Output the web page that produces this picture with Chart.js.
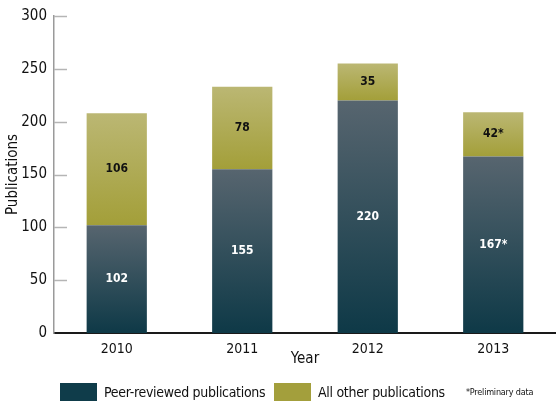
<!DOCTYPE html>
<html>
<head>
<meta charset="utf-8">
<script src="https://cdn.jsdelivr.net/npm/chart.js@4"></script>
<style>
  html, body { margin: 0; padding: 0; background: #fff; }
  #wrap { position: relative; width: 556px; height: 402px; }
  #legend { position: absolute; left: 0; top: 383px; width: 556px; height: 19px;
    font-family: "DejaVu Sans Condensed", "Liberation Sans Narrow", sans-serif; color: #111; }
  .item { position: absolute; top: 0; display: flex; align-items: center; font-size: 14px; letter-spacing: -0.3px; height: 18px; }
  .sw { width: 37px; height: 18px; margin-right: 7px; }
  .note { position: absolute; top: 4px; left: 466px; font-size: 9px; letter-spacing: -0.2px; }
</style>
</head>
<body>
<div id="wrap">
  <canvas id="chart" width="556" height="402"></canvas>
  <div id="legend">
    <div class="item" style="left:60px"><div class="sw" style="background:#0f3c4a"></div>Peer-reviewed publications</div>
    <div class="item" style="left:274px"><div class="sw" style="background:#a39f3c"></div>All other publications</div>
    <div class="note">*Preliminary data</div>
  </div>
</div>
<script>
// Data
const years = ['2010', '2011', '2012', '2013'];
const peerReviewed = [102, 155, 220, 167];
const otherPubs = [106, 78, 35, 42];
const preliminary = [false, false, false, true];
const yTicks = [0, 50, 100, 150, 200, 250, 300];

const FONT = '"DejaVu Sans Condensed", "Liberation Sans Narrow", sans-serif';

// vertical gradient for one stacked segment
function segFill(c, topColor, botColor, fallback) {
  const chart = c.chart;
  if (!chart.chartArea) return fallback;
  const y = chart.scales.y;
  const i = c.dataIndex;
  const base = c.datasetIndex === 0 ? 0 : peerReviewed[i];
  const val = c.datasetIndex === 0 ? peerReviewed[i] : peerReviewed[i] + otherPubs[i];
  const g = chart.ctx.createLinearGradient(0, y.getPixelForValue(val), 0, y.getPixelForValue(base));
  g.addColorStop(0, topColor);
  g.addColorStop(1, botColor);
  return g;
}

// short inward tick marks on the y axis
const innerTicks = {
  id: 'innerTicks',
  afterDatasetsDraw(chart) {
    const { ctx, chartArea } = chart;
    const y = chart.scales.y;
    ctx.save();
    ctx.strokeStyle = '#b5b5b5';
    ctx.lineWidth = 1.5;
    y.ticks.forEach((t, i) => {
      if (t.value === 0) return;
      const py = Math.round(y.getPixelForTick(i)) + 0.5;
      ctx.beginPath();
      ctx.moveTo(chartArea.left, py);
      ctx.lineTo(chartArea.left + 13, py);
      ctx.stroke();
    });
    ctx.restore();
  }
};

// value labels in the middle of each segment
const segLabels = {
  id: 'segLabels',
  afterDatasetsDraw(chart) {
    const ctx = chart.ctx;
    ctx.save();
    ctx.font = 'bold 12px ' + FONT;
    ctx.textAlign = 'center';
    ctx.textBaseline = 'middle';
    chart.data.datasets.forEach((ds, di) => {
      chart.getDatasetMeta(di).data.forEach((bar, i) => {
        const p = bar.getCenterPoint();
        ctx.fillStyle = di === 0 ? '#ffffff' : '#111111';
        ctx.fillText(ds.data[i] + (preliminary[i] ? '*' : ''), p.x, p.y);
      });
    });
    ctx.restore();
  }
};

const ctx = document.getElementById('chart').getContext('2d');
const chart = new Chart(ctx, {
  type: 'bar',
  data: {
    labels: years,
    datasets: [
      {
        label: 'Peer-reviewed publications',
        data: peerReviewed,
        backgroundColor: c => segFill(c, '#57656f', '#0e3947', '#0f3c4a'),
        borderWidth: 0,
        barPercentage: 0.48,
        categoryPercentage: 1
      },
      {
        label: 'All other publications',
        data: otherPubs,
        backgroundColor: c => segFill(c, '#bbb773', '#a39f39', '#a39f3c'),
        borderWidth: 0,
        barPercentage: 0.48,
        categoryPercentage: 1
      }
    ]
  },
  options: {
    responsive: false,
    animation: false,
    layout: { padding: { left: 0, top: 13, right: 0, bottom: 34 } },
    plugins: { legend: { display: false }, tooltip: { enabled: false } },
    scales: {
      x: {
        stacked: true,
        grid: { display: false, drawTicks: false },
        border: { color: '#1a1a1a', width: 2 },
        ticks: { color: '#111', padding: 8, font: { family: FONT, size: 14 } },
        title: { display: true, text: 'Year', color: '#111', padding: 0, font: { family: FONT, size: 15 } },
        afterFit: s => { s.height = 35; }
      },
      y: {
        stacked: true,
        min: 0,
        max: 300,
        afterBuildTicks: s => { s.ticks = yTicks.map(v => ({ value: v })); },
        grid: { display: false, drawTicks: false },
        border: { color: '#9a9a9a', width: 1.5 },
        ticks: { color: '#111', padding: 7, font: { family: FONT, size: 15 } },
        title: { display: true, text: 'Publications', color: '#111', padding: 4, font: { family: FONT, size: 15 } },
        afterFit: s => { s.width = 54; }
      }
    }
  },
  plugins: [innerTicks, segLabels]
});
</script>
</body>
</html>
